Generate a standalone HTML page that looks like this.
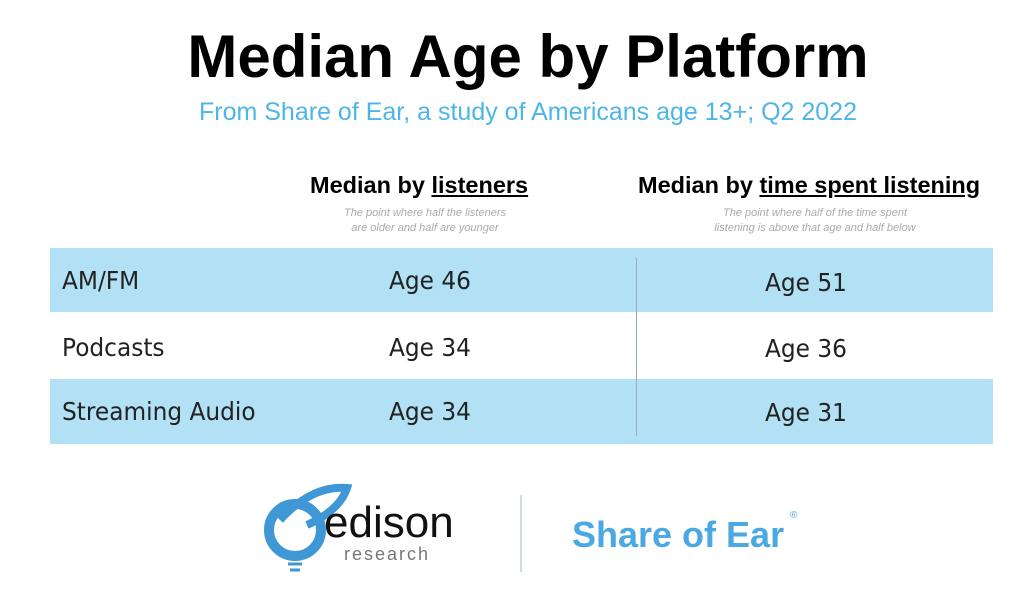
<!DOCTYPE html>
<html><head><style>
body{margin:0;width:1030px;height:592px;background:#fff;position:relative;overflow:hidden;font-family:"Liberation Sans",sans-serif}
.a{position:absolute;white-space:nowrap}
.band{position:absolute;left:50px;width:943px;background:#b2e1f6}
.r{position:absolute;font-size:25px;color:#222;font-family:"DejaVu Sans","Liberation Sans",sans-serif;transform:scaleX(.93);transform-origin:left}
.sm{font-size:11px;font-style:italic;color:#aaa;text-align:center;line-height:15px}
</style></head><body>
<div class="a" style="left:0;width:1056px;text-align:center;top:22px;font-size:60px;font-weight:bold;color:#000">Median Age by Platform</div>
<div class="a" style="left:0;width:1056px;text-align:center;top:98px;font-size:25px;color:#4db5ea">From Share of Ear, a study of Americans age 13+; Q2 2022</div>
<div class="a" style="left:310px;top:172px;font-size:23.5px;font-weight:bold">Median by <u>listeners</u></div>
<div class="a" style="left:638px;top:172px;font-size:23.5px;font-weight:bold">Median by <u>time spent listening</u></div>
<div class="a sm" style="left:310px;width:230px;top:206px">The point where half the listeners<br>are older and half are younger</div>
<div class="a sm" style="left:690px;width:250px;top:206px">The point where half of the time spent<br>listening is above that age and half below</div>
<div class="band" style="top:248px;height:64px"></div>
<div class="band" style="top:379px;height:65px"></div>
<div class="a" style="left:636px;top:258px;width:1px;height:178px;background:#9ab"></div>
<div class="r" style="left:62px;top:266px">AM/FM</div>
<div class="r" style="left:62px;top:333px">Podcasts</div>
<div class="r" style="left:62px;top:397px">Streaming Audio</div>
<div class="r" style="left:389px;top:266px">Age 46</div>
<div class="r" style="left:389px;top:333px">Age 34</div>
<div class="r" style="left:389px;top:397px">Age 34</div>
<div class="r" style="left:765px;top:268px">Age 51</div>
<div class="r" style="left:765px;top:334px">Age 36</div>
<div class="r" style="left:765px;top:398px">Age 31</div>
<svg class="a" style="left:262px;top:480px" width="90" height="100">
<circle cx="33" cy="50" r="26" fill="none" stroke="#3f97d6" stroke-width="10"/>
<path d="M18 40 Q50 5 85 8 Q78 30 45 45" fill="none" stroke="#3f97d6" stroke-width="8"/>
<path d="M24 78 h18 M26 84 h14 M28 90 h10" stroke="#3f97d6" stroke-width="3"/>
</svg>
<div class="a" style="left:324px;top:498px;font-size:44px;color:#111">edison</div>
<div class="a" style="left:344px;top:544px;font-size:18px;color:#777;letter-spacing:2px">research</div>
<div class="a" style="left:520px;top:495px;width:2px;height:77px;background:#c9dff0"></div>
<div class="a" style="left:572px;top:514px;font-size:36px;font-weight:bold;color:#4aa8e2">Share of Ear</div>
<div class="a" style="left:790px;top:510px;font-size:10px;color:#4aa8e2">®</div>
</body></html>
